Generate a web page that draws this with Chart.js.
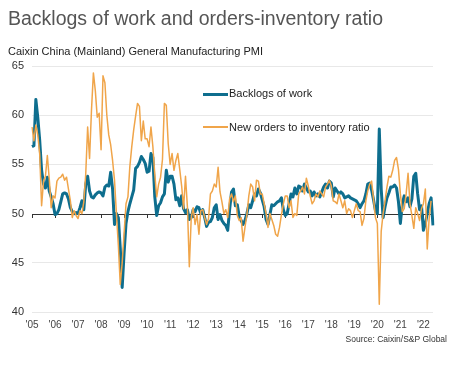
<!DOCTYPE html>
<html>
<head>
<meta charset="utf-8">
<script src="https://cdn.jsdelivr.net/npm/chart.js@4.4.0/dist/chart.umd.min.js"></script>
<style>
  html, body { margin: 0; padding: 0; background: #fff; }
  body { width: 464px; height: 365px; position: relative; overflow: hidden; font-family: "Liberation Sans", Arial, sans-serif; }
  #wrap { position: absolute; left: 0; top: 0; width: 464px; height: 365px; }
  .title { position: absolute; left: 8px; top: 9px; font-size: 19.5px; line-height: 1; color: #555; white-space: nowrap; }
  .subtitle { position: absolute; left: 8px; top: 46px; font-size: 11px; line-height: 1; color: #222; white-space: nowrap; }
  .source { position: absolute; right: 17px; top: 335px; font-size: 8.5px; line-height: 1; color: #333; white-space: nowrap; }
  .leg { position: absolute; font-size: 11px; line-height: 1; color: #222; white-space: nowrap; }
  .legline { position: absolute; left: 203px; width: 25px; }
</style>
</head>
<body>
<div id="wrap"><canvas id="c" width="464" height="365"></canvas></div>
<div class="title">Backlogs of work and orders-inventory ratio</div>
<div class="subtitle">Caixin China (Mainland) General Manufacturing PMI</div>
<div class="legline" style="top:92.5px;height:3px;background:#0e6e8e"></div>
<div class="leg" style="left:229px;top:88px">Backlogs of work</div>
<div class="legline" style="top:125.5px;height:2px;background:#f0a54a"></div>
<div class="leg" style="left:229px;top:121.5px">New orders to inventory ratio</div>
<div class="source">Source: Caixin/S&amp;P Global</div>
<script>
// Year tick labels (one per January, 2005-2022)
const yearLabels = ["'05","'06","'07","'08","'09","'10","'11","'12","'13","'14","'15","'16","'17","'18","'19","'20","'21","'22"];
const firstYear = 2005;
const lastMonth = 6; // data through June 2022

// Backlogs of work (monthly, Jan 2005 - Jun 2022)
const backlogs = [
  56.8, 56.9, 61.6, 59.8, 57.5, 54.4, 53.0, 52.6, 53.7, 52.3, 51.7, 51.0,
  49.9, 50.0, 50.4, 51.2, 52.0, 52.1, 52.0, 51.5, 50.6, 50.2, 50.0, 50.1,
  50.0, 50.6, 51.3, 50.4, 53.0, 53.8, 52.3, 51.7, 51.6, 51.9, 52.1, 52.2,
  52.1, 51.8, 52.7, 52.9, 52.8, 54.2, 52.5, 48.9, 50.0, 49.6, 46.5, 42.5,
  46.0, 49.0, 50.2, 51.0, 51.7, 52.4, 54.6, 54.8, 55.2, 55.8, 55.5, 55.1,
  54.2, 54.3, 56.1, 55.7, 51.7, 49.8, 50.8, 51.1, 51.7, 52.0, 54.4, 53.2,
  53.8, 53.8, 53.0, 51.4, 51.6, 50.8, 51.8, 50.5, 50.1, 50.4, 49.4, 49.6,
  50.4, 50.2, 50.7, 50.6, 50.0, 50.4, 49.6, 48.7, 49.1, 49.2, 49.6, 50.6,
  50.9, 49.4, 49.9, 49.3, 49.0, 48.8, 48.3, 50.4, 52.2, 52.5, 50.8, 50.9,
  49.7, 49.3, 48.9, 49.3, 50.0, 50.9, 50.6, 51.3, 52.0, 51.8, 52.5, 52.1,
  51.4, 50.7, 49.4, 48.9, 49.9, 50.9, 50.8, 51.0, 51.2, 51.3, 51.6, 50.4,
  49.8, 50.0, 51.0, 52.0, 51.7, 52.6, 52.0, 52.8, 52.7, 52.3, 53.0, 52.6,
  52.2, 52.3, 51.8, 52.2, 51.8, 52.0, 51.7, 52.2, 52.7, 53.0, 52.6, 53.3,
  53.1, 51.7, 52.6, 52.3, 52.0, 52.2, 52.0, 51.6, 51.7, 51.8, 51.6, 51.5,
  51.4, 51.3, 51.0, 50.6, 51.0, 51.3, 52.0, 53.0, 53.1, 52.4, 51.4, 50.3,
  50.0, 58.6, 52.5, 49.6, 50.7, 51.6, 52.1, 52.7, 52.7, 52.9, 52.6, 51.2,
  49.0, 51.0, 51.8, 51.2, 51.6, 50.7, 51.5, 53.8, 54.1, 52.0, 50.4, 50.8,
  48.3, 49.0, 50.0, 51.0, 51.6, 48.8
];

// New orders to inventory ratio (monthly, Jan 2005 - Jun 2022)
const ordersInventory = [
  58.8, 57.4, 59.0, 58.0, 56.1, 50.8, 53.3, 53.8, 55.9, 53.5, 50.6, 51.8,
  51.6, 53.3, 53.6, 53.7, 54.0, 53.4, 53.7, 52.5, 51.3, 49.6, 50.3, 49.8,
  49.5, 50.3, 50.0, 51.2, 54.0, 58.8, 55.6, 60.5, 64.3, 62.5, 59.8, 60.2,
  56.5, 64.0, 63.3, 60.0, 58.0, 57.0, 55.4, 53.4, 50.0, 46.8, 42.8, 45.0,
  48.0, 51.0, 51.7, 54.8, 56.8, 58.5, 59.9, 61.2, 60.9, 57.4, 59.4, 57.6,
  57.6, 56.8, 58.8, 56.8, 54.0, 51.7, 53.0, 53.7, 55.5, 61.2, 61.0, 57.1,
  55.0, 56.1, 54.4, 55.4, 56.1, 54.5, 52.8, 50.5, 53.8, 50.7, 44.6, 49.6,
  50.6, 48.9, 49.9, 47.9, 50.3, 50.4, 49.6, 48.9, 49.5, 52.0, 52.3, 53.0,
  52.7, 54.7, 52.2, 51.2, 50.0, 50.4, 49.6, 51.5, 52.0, 51.2, 51.8, 49.8,
  49.3, 49.6, 47.2, 48.6, 49.9, 51.8, 53.0, 52.7, 51.3, 53.4, 53.3, 52.0,
  52.0, 51.0, 50.0, 48.6, 50.0, 49.4, 48.8, 47.9, 47.7, 48.6, 49.9, 51.0,
  51.8, 51.8, 50.6, 51.3, 49.6, 50.0, 49.8, 52.0, 52.3, 52.7, 52.0, 53.6,
  52.8, 51.8, 51.0, 51.3, 52.0, 51.7, 52.3, 52.0, 51.7, 52.7, 53.0, 53.4,
  52.8, 51.3, 51.2, 51.0, 52.0, 51.3, 50.6, 51.3, 50.0, 50.5, 50.3, 49.6,
  50.3, 51.0, 50.3, 50.2, 48.8, 49.5, 51.3, 52.3, 53.0, 53.3, 51.5, 49.6,
  49.0, 40.8, 48.2, 50.0, 51.3, 52.7, 53.8, 53.7, 54.4, 55.4, 55.7, 54.5,
  52.0, 50.2, 50.5, 52.0, 54.1, 51.0, 49.8, 48.5, 50.6, 50.0, 49.3, 50.5,
  51.0, 52.5, 46.4, 49.5, 51.3, null
];

// Monthly categories
const months = [];
for (let y = firstYear; y <= 2022; y++) {
  for (let m = 1; m <= 12; m++) {
    if (y === 2022 && m > lastMonth) break;
    months.push(y + '-' + String(m).padStart(2, '0'));
  }
}

const TEAL = '#0e6e8e';
const ORANGE = '#f0a54a';

const baseline50 = {
  id: 'baseline50',
  beforeDatasetsDraw(chart) {
    const { ctx, chartArea, scales } = chart;
    const x = scales.x, y = scales.y;
    const py = Math.round(y.getPixelForValue(50)) + 0.5;
    ctx.save();
    ctx.strokeStyle = '#333';
    ctx.lineWidth = 1;
    ctx.beginPath();
    ctx.moveTo(chartArea.left, py);
    ctx.lineTo(chartArea.right, py);
    for (let i = 0; i < months.length; i += 12) {
      const px = Math.round(x.getPixelForValue(i)) + 0.5;
      ctx.moveTo(px, py);
      ctx.lineTo(px, py + 3.5);
    }
    ctx.stroke();
    ctx.restore();
  }
};

new Chart(document.getElementById('c'), {
  type: 'line',
  data: {
    labels: months,
    datasets: [
      { label: 'Backlogs of work', data: backlogs, borderColor: TEAL, borderWidth: 3, pointRadius: 0, tension: 0, order: 1, borderJoinStyle: 'round' },
      { label: 'New orders to inventory ratio', data: ordersInventory, borderColor: ORANGE, borderWidth: 1.5, pointRadius: 0, tension: 0, order: 0, borderJoinStyle: 'round' }
    ]
  },
  options: {
    responsive: false,
    animation: false,
    events: [],
    layout: { padding: { top: 66, right: 31, bottom: 33, left: 0 } },
    plugins: { legend: { display: false }, tooltip: { enabled: false }, title: { display: false } },
    scales: {
      x: {
        type: 'category',
        offset: false,
        grid: { display: false, drawTicks: false },
        border: { display: false },
        ticks: {
          autoSkip: false,
          maxRotation: 0,
          minRotation: 0,
          padding: 7,
          color: '#444',
          font: { family: '"Liberation Sans", Arial, sans-serif', size: 10 },
          callback: (v, i) => (i % 12 === 0 ? yearLabels[i / 12] : null)
        },
        afterFit: (s) => { s.height = 20; }
      },
      y: {
        min: 40,
        max: 65,
        grid: {
          drawTicks: false,
          color: (c) => (c.tick && c.tick.value === 50 ? 'rgba(0,0,0,0)' : '#e8e8e8'),
          lineWidth: 1
        },
        border: { display: false },
        ticks: {
          stepSize: 5,
          padding: 8,
          color: '#333',
          font: { family: '"Liberation Sans", Arial, sans-serif', size: 11 }
        },
        afterFit: (s) => { s.width = 32; }
      }
    }
  },
  plugins: [baseline50]
});
</script>
</body>
</html>
